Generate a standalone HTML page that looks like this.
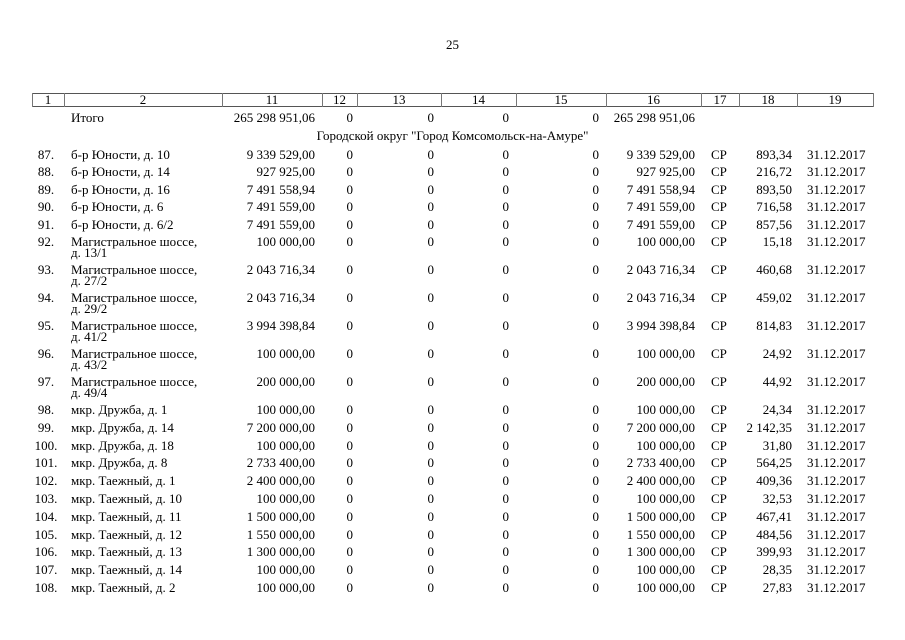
<!DOCTYPE html>
<html><head><meta charset="utf-8">
<style>
html,body{margin:0;padding:0;background:#fff;}
body{width:905px;height:640px;position:relative;overflow:hidden;font-family:"Liberation Serif","Noto Serif CJK SC",serif;font-size:13px;color:#000;}
.r{position:absolute;left:0;width:905px;height:12px;line-height:12px;}
.r span{position:absolute;top:0;white-space:nowrap;}
.c1{left:31px;width:30px;text-align:center;}
.c2{left:71px;}
.c2b{left:71px;top:11px!important;}
.c11{right:590px;}
.c12{right:552px;}
.c13{right:471px;}
.c14{right:396px;}
.c15{right:306px;}
.c16{right:210px;}
.c17{left:711px;}
.c18{right:113px;}
.c19{left:807px;}
.h{position:absolute;background:#555;}
.v{position:absolute;background:#777;width:1px;top:93px;height:14px;}
.hd{position:absolute;top:94px;height:12px;line-height:12px;text-align:center;}
</style></head><body>
<div class="r" style="top:39px;"><span style="left:0;width:905px;text-align:center;">25</span></div>

<div class="h" style="left:32px;width:842px;top:93px;height:1px;"></div>
<div class="h" style="left:32px;width:842px;top:106px;height:1px;"></div>
<div class="v" style="left:32px"></div>
<div class="v" style="left:64px"></div>
<div class="v" style="left:222px"></div>
<div class="v" style="left:322px"></div>
<div class="v" style="left:357px"></div>
<div class="v" style="left:441px"></div>
<div class="v" style="left:516px"></div>
<div class="v" style="left:606px"></div>
<div class="v" style="left:701px"></div>
<div class="v" style="left:739px"></div>
<div class="v" style="left:797px"></div>
<div class="v" style="left:873px"></div>

<div class="hd" style="left:32px;width:32px;">1</div>
<div class="hd" style="left:64px;width:158px;">2</div>
<div class="hd" style="left:222px;width:100px;">11</div>
<div class="hd" style="left:322px;width:35px;">12</div>
<div class="hd" style="left:357px;width:84px;">13</div>
<div class="hd" style="left:441px;width:75px;">14</div>
<div class="hd" style="left:516px;width:90px;">15</div>
<div class="hd" style="left:606px;width:95px;">16</div>
<div class="hd" style="left:701px;width:38px;">17</div>
<div class="hd" style="left:739px;width:58px;">18</div>
<div class="hd" style="left:797px;width:76px;">19</div>

<div class="r" style="top:112px;"><span class="c2">Итого</span><span class="c11">265 298 951,06</span><span class="c12">0</span><span class="c13">0</span><span class="c14">0</span><span class="c15">0</span><span class="c16">265 298 951,06</span></div>
<div class="r" style="top:130px;"><span style="left:0;width:905px;text-align:center;">Городской округ "Город Комсомольск-на-Амуре"</span></div>

<div class="r" style="top:149px;"><span class="c1">87.</span><span class="c2">б-р Юности, д. 10</span><span class="c11">9 339 529,00</span><span class="c12">0</span><span class="c13">0</span><span class="c14">0</span><span class="c15">0</span><span class="c16">9 339 529,00</span><span class="c17">СР</span><span class="c18">893,34</span><span class="c19">31.12.2017</span></div>
<div class="r" style="top:166px;"><span class="c1">88.</span><span class="c2">б-р Юности, д. 14</span><span class="c11">927 925,00</span><span class="c12">0</span><span class="c13">0</span><span class="c14">0</span><span class="c15">0</span><span class="c16">927 925,00</span><span class="c17">СР</span><span class="c18">216,72</span><span class="c19">31.12.2017</span></div>
<div class="r" style="top:183.5px;"><span class="c1">89.</span><span class="c2">б-р Юности, д. 16</span><span class="c11">7 491 558,94</span><span class="c12">0</span><span class="c13">0</span><span class="c14">0</span><span class="c15">0</span><span class="c16">7 491 558,94</span><span class="c17">СР</span><span class="c18">893,50</span><span class="c19">31.12.2017</span></div>
<div class="r" style="top:201px;"><span class="c1">90.</span><span class="c2">б-р Юности, д. 6</span><span class="c11">7 491 559,00</span><span class="c12">0</span><span class="c13">0</span><span class="c14">0</span><span class="c15">0</span><span class="c16">7 491 559,00</span><span class="c17">СР</span><span class="c18">716,58</span><span class="c19">31.12.2017</span></div>
<div class="r" style="top:218.5px;"><span class="c1">91.</span><span class="c2">б-р Юности, д. 6/2</span><span class="c11">7 491 559,00</span><span class="c12">0</span><span class="c13">0</span><span class="c14">0</span><span class="c15">0</span><span class="c16">7 491 559,00</span><span class="c17">СР</span><span class="c18">857,56</span><span class="c19">31.12.2017</span></div>

<div class="r" style="top:236px;"><span class="c1">92.</span><span class="c2">Магистральное шоссе,</span><span class="c2b">д. 13/1</span><span class="c11">100 000,00</span><span class="c12">0</span><span class="c13">0</span><span class="c14">0</span><span class="c15">0</span><span class="c16">100 000,00</span><span class="c17">СР</span><span class="c18">15,18</span><span class="c19">31.12.2017</span></div>
<div class="r" style="top:264px;"><span class="c1">93.</span><span class="c2">Магистральное шоссе,</span><span class="c2b">д. 27/2</span><span class="c11">2 043 716,34</span><span class="c12">0</span><span class="c13">0</span><span class="c14">0</span><span class="c15">0</span><span class="c16">2 043 716,34</span><span class="c17">СР</span><span class="c18">460,68</span><span class="c19">31.12.2017</span></div>
<div class="r" style="top:292px;"><span class="c1">94.</span><span class="c2">Магистральное шоссе,</span><span class="c2b">д. 29/2</span><span class="c11">2 043 716,34</span><span class="c12">0</span><span class="c13">0</span><span class="c14">0</span><span class="c15">0</span><span class="c16">2 043 716,34</span><span class="c17">СР</span><span class="c18">459,02</span><span class="c19">31.12.2017</span></div>
<div class="r" style="top:320px;"><span class="c1">95.</span><span class="c2">Магистральное шоссе,</span><span class="c2b">д. 41/2</span><span class="c11">3 994 398,84</span><span class="c12">0</span><span class="c13">0</span><span class="c14">0</span><span class="c15">0</span><span class="c16">3 994 398,84</span><span class="c17">СР</span><span class="c18">814,83</span><span class="c19">31.12.2017</span></div>
<div class="r" style="top:348px;"><span class="c1">96.</span><span class="c2">Магистральное шоссе,</span><span class="c2b">д. 43/2</span><span class="c11">100 000,00</span><span class="c12">0</span><span class="c13">0</span><span class="c14">0</span><span class="c15">0</span><span class="c16">100 000,00</span><span class="c17">СР</span><span class="c18">24,92</span><span class="c19">31.12.2017</span></div>
<div class="r" style="top:376px;"><span class="c1">97.</span><span class="c2">Магистральное шоссе,</span><span class="c2b">д. 49/4</span><span class="c11">200 000,00</span><span class="c12">0</span><span class="c13">0</span><span class="c14">0</span><span class="c15">0</span><span class="c16">200 000,00</span><span class="c17">СР</span><span class="c18">44,92</span><span class="c19">31.12.2017</span></div>

<div class="r" style="top:404px;"><span class="c1">98.</span><span class="c2">мкр. Дружба, д. 1</span><span class="c11">100 000,00</span><span class="c12">0</span><span class="c13">0</span><span class="c14">0</span><span class="c15">0</span><span class="c16">100 000,00</span><span class="c17">СР</span><span class="c18">24,34</span><span class="c19">31.12.2017</span></div>
<div class="r" style="top:421.8px;"><span class="c1">99.</span><span class="c2">мкр. Дружба, д. 14</span><span class="c11">7 200 000,00</span><span class="c12">0</span><span class="c13">0</span><span class="c14">0</span><span class="c15">0</span><span class="c16">7 200 000,00</span><span class="c17">СР</span><span class="c18">2 142,35</span><span class="c19">31.12.2017</span></div>
<div class="r" style="top:439.6px;"><span class="c1">100.</span><span class="c2">мкр. Дружба, д. 18</span><span class="c11">100 000,00</span><span class="c12">0</span><span class="c13">0</span><span class="c14">0</span><span class="c15">0</span><span class="c16">100 000,00</span><span class="c17">СР</span><span class="c18">31,80</span><span class="c19">31.12.2017</span></div>
<div class="r" style="top:457.4px;"><span class="c1">101.</span><span class="c2">мкр. Дружба, д. 8</span><span class="c11">2 733 400,00</span><span class="c12">0</span><span class="c13">0</span><span class="c14">0</span><span class="c15">0</span><span class="c16">2 733 400,00</span><span class="c17">СР</span><span class="c18">564,25</span><span class="c19">31.12.2017</span></div>
<div class="r" style="top:475.2px;"><span class="c1">102.</span><span class="c2">мкр. Таежный, д. 1</span><span class="c11">2 400 000,00</span><span class="c12">0</span><span class="c13">0</span><span class="c14">0</span><span class="c15">0</span><span class="c16">2 400 000,00</span><span class="c17">СР</span><span class="c18">409,36</span><span class="c19">31.12.2017</span></div>
<div class="r" style="top:493px;"><span class="c1">103.</span><span class="c2">мкр. Таежный, д. 10</span><span class="c11">100 000,00</span><span class="c12">0</span><span class="c13">0</span><span class="c14">0</span><span class="c15">0</span><span class="c16">100 000,00</span><span class="c17">СР</span><span class="c18">32,53</span><span class="c19">31.12.2017</span></div>
<div class="r" style="top:510.8px;"><span class="c1">104.</span><span class="c2">мкр. Таежный, д. 11</span><span class="c11">1 500 000,00</span><span class="c12">0</span><span class="c13">0</span><span class="c14">0</span><span class="c15">0</span><span class="c16">1 500 000,00</span><span class="c17">СР</span><span class="c18">467,41</span><span class="c19">31.12.2017</span></div>
<div class="r" style="top:528.6px;"><span class="c1">105.</span><span class="c2">мкр. Таежный, д. 12</span><span class="c11">1 550 000,00</span><span class="c12">0</span><span class="c13">0</span><span class="c14">0</span><span class="c15">0</span><span class="c16">1 550 000,00</span><span class="c17">СР</span><span class="c18">484,56</span><span class="c19">31.12.2017</span></div>
<div class="r" style="top:546.4px;"><span class="c1">106.</span><span class="c2">мкр. Таежный, д. 13</span><span class="c11">1 300 000,00</span><span class="c12">0</span><span class="c13">0</span><span class="c14">0</span><span class="c15">0</span><span class="c16">1 300 000,00</span><span class="c17">СР</span><span class="c18">399,93</span><span class="c19">31.12.2017</span></div>
<div class="r" style="top:564.2px;"><span class="c1">107.</span><span class="c2">мкр. Таежный, д. 14</span><span class="c11">100 000,00</span><span class="c12">0</span><span class="c13">0</span><span class="c14">0</span><span class="c15">0</span><span class="c16">100 000,00</span><span class="c17">СР</span><span class="c18">28,35</span><span class="c19">31.12.2017</span></div>
<div class="r" style="top:582px;"><span class="c1">108.</span><span class="c2">мкр. Таежный, д. 2</span><span class="c11">100 000,00</span><span class="c12">0</span><span class="c13">0</span><span class="c14">0</span><span class="c15">0</span><span class="c16">100 000,00</span><span class="c17">СР</span><span class="c18">27,83</span><span class="c19">31.12.2017</span></div>
</body></html>
